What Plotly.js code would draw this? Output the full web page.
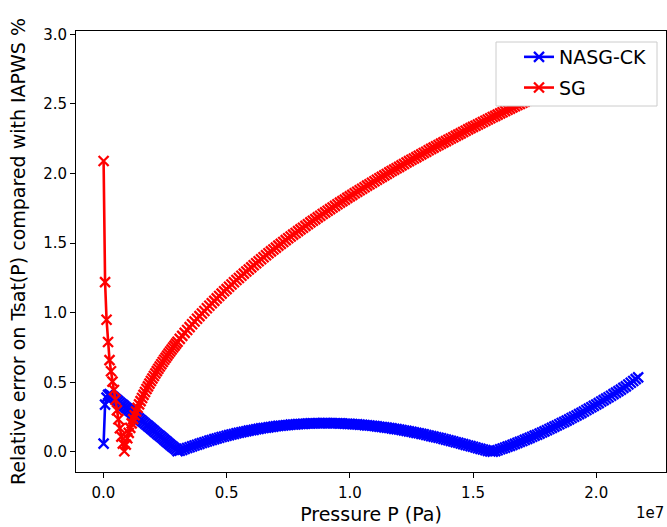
<!DOCTYPE html>
<html>
<head>
<meta charset="utf-8">
<script src="https://cdn.plot.ly/plotly-3.0.1.min.js"></script>
<style>html,body{margin:0;padding:0;background:#fff;}#chart{width:667px;height:527px;}</style>
</head>
<body>
<div id="chart"></div>
<script>
// Pressure in units of 1e7 Pa
const pressure = [
0.001,0.007,0.013,0.019,0.025,0.031,0.037,0.043,0.049,0.055,0.061,0.067,0.073,0.079,0.085,0.091,0.097,0.103,0.109,0.115,
0.121,0.127,0.133,0.139,0.145,0.151,0.157,0.163,0.169,0.175,0.181,0.187,0.193,0.199,0.205,0.211,0.217,0.223,0.229,0.235,
0.241,0.247,0.253,0.259,0.265,0.271,0.277,0.283,0.289,0.295,0.301,
0.31,0.32,0.33,0.34,0.35,0.36,0.37,0.38,0.39,0.40,
0.41,0.42,0.43,0.44,0.45,0.46,0.47,0.48,0.49,0.50,
0.51,0.52,0.53,0.54,0.55,0.56,0.57,0.58,0.59,0.60,
0.61,0.62,0.63,0.64,0.65,0.66,0.67,0.68,0.69,0.70,
0.71,0.72,0.73,0.74,0.75,0.76,0.77,0.78,0.79,0.80,
0.81,0.82,0.83,0.84,0.85,0.86,0.87,0.88,0.89,0.90,
0.91,0.92,0.93,0.94,0.95,0.96,0.97,0.98,0.99,1.00,
1.01,1.02,1.03,1.04,1.05,1.06,1.07,1.08,1.09,1.10,
1.11,1.12,1.13,1.14,1.15,1.16,1.17,1.18,1.19,1.20,
1.21,1.22,1.23,1.24,1.25,1.26,1.27,1.28,1.29,1.30,
1.31,1.32,1.33,1.34,1.35,1.36,1.37,1.38,1.39,1.40,
1.41,1.42,1.43,1.44,1.45,1.46,1.47,1.48,1.49,1.50,
1.51,1.52,1.53,1.54,1.55,1.56,1.57,1.58,1.59,1.60,
1.61,1.62,1.63,1.64,1.65,1.66,1.67,1.68,1.69,1.70,
1.71,1.72,1.73,1.74,1.75,1.76,1.77,1.78,1.79,1.80,
1.81,1.82,1.83,1.84,1.85,1.86,1.87,1.88,1.89,1.90,
1.91,1.92,1.93,1.94,1.95,1.96,1.97,1.98,1.99,2.00,
2.01,2.02,2.03,2.04,2.05,2.06,2.07,2.08,2.09,2.10,
2.11,2.12,2.13,2.14,2.15,2.16,2.17
];

const nasgCK = [
0.06,0.34,0.39,0.41,0.415,0.408,0.400,0.391,0.382,0.373,0.364,0.355,0.346,0.338,0.329,0.320,0.311,0.302,0.293,0.284,
0.275,0.266,0.258,0.249,0.240,0.231,0.222,0.213,0.204,0.195,0.187,0.178,0.169,0.160,0.151,0.142,0.133,0.124,0.116,0.107,
0.098,0.089,0.080,0.071,0.062,0.053,0.044,0.036,0.027,0.018,0.006,
0.009,0.015,0.022,0.028,0.034,0.040,0.046,0.052,0.058,0.064,
0.070,0.075,0.081,0.086,0.092,0.097,0.102,0.107,0.111,0.116,
0.121,0.125,0.129,0.134,0.138,0.142,0.145,0.149,0.153,0.156,
0.159,0.163,0.166,0.169,0.172,0.174,0.177,0.179,0.182,0.185,
0.187,0.188,0.190,0.192,0.194,0.196,0.197,0.198,0.200,0.201,
0.202,0.203,0.204,0.205,0.205,0.206,0.206,0.206,0.207,0.207,
0.207,0.206,0.206,0.206,0.206,0.205,0.204,0.203,0.202,0.202,
0.200,0.199,0.198,0.196,0.195,0.193,0.191,0.190,0.188,0.186,
0.184,0.181,0.179,0.177,0.175,0.172,0.169,0.166,0.164,0.161,
0.158,0.154,0.151,0.148,0.145,0.141,0.137,0.134,0.130,0.127,
0.122,0.118,0.114,0.110,0.106,0.102,0.098,0.093,0.089,0.084,
0.080,0.075,0.070,0.066,0.061,0.056,0.051,0.046,0.042,0.037,
0.032,0.027,0.022,0.018,0.013,0.008,0.004,0.002,0.006,0.012,
0.019,0.025,0.031,0.038,0.044,0.051,0.058,0.065,0.072,0.079,
0.087,0.094,0.101,0.109,0.117,0.124,0.132,0.140,0.148,0.156,
0.165,0.173,0.182,0.190,0.199,0.208,0.216,0.225,0.234,0.244,
0.253,0.262,0.272,0.281,0.291,0.301,0.311,0.321,0.331,0.341,
0.351,0.362,0.372,0.383,0.393,0.404,0.415,0.426,0.437,0.448,
0.460,0.471,0.485,0.497,0.510,0.523,0.536
];

const sg = [
2.09,1.22,0.95,0.79,0.66,0.58,0.505,0.445,0.375,0.30,0.235,0.17,0.11,0.06,0.005,
0.053,0.098,0.137,0.173,0.205,0.236,0.264,0.291,0.317,0.342,0.365,0.388,0.410,0.431,0.452,
0.471,0.491,0.510,0.528,0.546,0.564,0.581,0.598,0.614,0.630,0.646,0.662,0.677,0.692,0.707,
0.722,0.736,0.750,0.764,0.778,0.792,
0.812,0.834,0.855,0.876,0.897,0.917,0.937,0.957,0.976,0.995,
1.013,1.032,1.050,1.068,1.085,1.103,1.120,1.137,1.154,1.170,
1.187,1.203,1.219,1.235,1.250,1.266,1.281,1.296,1.311,1.326,
1.341,1.356,1.370,1.384,1.399,1.413,1.427,1.441,1.454,1.468,
1.482,1.495,1.508,1.522,1.535,1.548,1.561,1.573,1.586,1.599,
1.611,1.624,1.636,1.649,1.661,1.673,1.685,1.697,1.709,1.721,
1.733,1.744,1.756,1.768,1.779,1.791,1.802,1.813,1.825,1.836,
1.847,1.858,1.869,1.880,1.891,1.902,1.913,1.923,1.934,1.945,
1.955,1.966,1.976,1.987,1.997,2.008,2.018,2.028,2.038,2.048,
2.059,2.069,2.079,2.089,2.099,2.108,2.118,2.128,2.138,2.148,
2.157,2.167,2.177,2.186,2.196,2.205,2.215,2.224,2.233,2.243,
2.252,2.261,2.271,2.280,2.289,2.298,2.307,2.317,2.326,2.335,
2.343,2.352,2.361,2.370,2.379,2.388,2.397,2.406,2.414,2.423,
2.432,2.440,2.449,2.458,2.466,2.475,2.483,2.492,2.500,2.509,
2.517,2.526,2.534,2.542,2.551,2.559,2.567,2.575,2.584,2.592,
2.600,2.608,2.616,2.624,2.632,2.641,2.649,2.656,2.665,2.673,
2.681,2.688,2.696,2.704,2.712,2.720,2.728,2.735,2.743,2.751,
2.759,2.766,2.774,2.782,2.790,2.797,2.805,2.812,2.820,2.827,
2.835,2.843,2.850,2.858,2.865,2.872,2.880
];

const seriesNames = ['NASG-CK', 'SG'];
const xTickVals = [0, 0.5, 1.0, 1.5, 2.0];
const xTickText = ['0.0', '0.5', '1.0', '1.5', '2.0'];
const yTickVals = [0, 0.5, 1.0, 1.5, 2.0, 2.5, 3.0];
const yTickText = ['0.0', '0.5', '1.0', '1.5', '2.0', '2.5', '3.0'];

const FONT = 'DejaVu Sans, sans-serif';

function mk(name, y, color, grp) {
  return {
    type: 'scatter', mode: 'lines+markers', name: name, legendgroup: grp,
    x: pressure, y: y,
    line: {color: color, width: 2.6},
    marker: {symbol: 'x-thin', size: 10, color: color, line: {color: color, width: 2.3}}
  };
}

const data = [mk(seriesNames[0], nasgCK, '#0000ff', 'g1'), mk(seriesNames[1], sg, '#ff0000', 'g2')];

const axisCommon = {
  showgrid: false, zeroline: false, showline: true, mirror: true,
  linecolor: '#000', linewidth: 1, ticks: 'outside', ticklen: 5, tickwidth: 1, tickcolor: '#000',
  tickfont: {family: FONT, size: 15, color: '#000'}
};

// plot-area geometry helpers (pixels -> paper fractions) for the legend frame
const L = 76, T = 31, W = 590, H = 441;
function px(x) { return (x - L) / W; }
function py(y) { return (T + H - y) / H; }

const layout = {
  width: 667, height: 527,
  margin: {l: 76, r: 1, t: 31, b: 55},
  paper_bgcolor: '#fff', plot_bgcolor: '#fff',
  font: {family: FONT, color: '#000'},
  xaxis: Object.assign({}, axisCommon, {
    range: [-0.111, 2.283], tickmode: 'array', tickvals: xTickVals, ticktext: xTickText,
    ticklabelstandoff: 2,
    title: {text: 'Pressure P (Pa)', font: {family: FONT, size: 19, color: '#000'}, standoff: 6}
  }),
  yaxis: Object.assign({}, axisCommon, {
    range: [-0.144, 3.024], tickmode: 'array', tickvals: yTickVals, ticktext: yTickText,
    title: {text: 'Relative error on Tsat(P) compared with IAPWS %', font: {family: FONT, size: 19, color: '#000'}, standoff: 12}
  }),
  showlegend: true,
  legend: {
    x: px(519), y: py(38), xanchor: 'left', yanchor: 'top',
    bgcolor: 'rgba(0,0,0,0)', borderwidth: 0, tracegroupgap: 3,
    font: {family: FONT, size: 19, color: '#000'}
  },
  shapes: [{
    type: 'rect', xref: 'paper', yref: 'paper', layer: 'above',
    x0: px(496), x1: px(657), y0: py(106), y1: py(42),
    fillcolor: '#ffffff', line: {color: '#cccccc', width: 1}
  }],
  annotations: [{
    text: '1e7', xref: 'paper', yref: 'paper', x: 1, y: -0.093, xanchor: 'right', yanchor: 'middle',
    showarrow: false, font: {family: FONT, size: 15, color: '#000'}
  }]
};

Plotly.newPlot('chart', data, layout, {displayModeBar: false, staticPlot: true});
</script>
</body>
</html>
